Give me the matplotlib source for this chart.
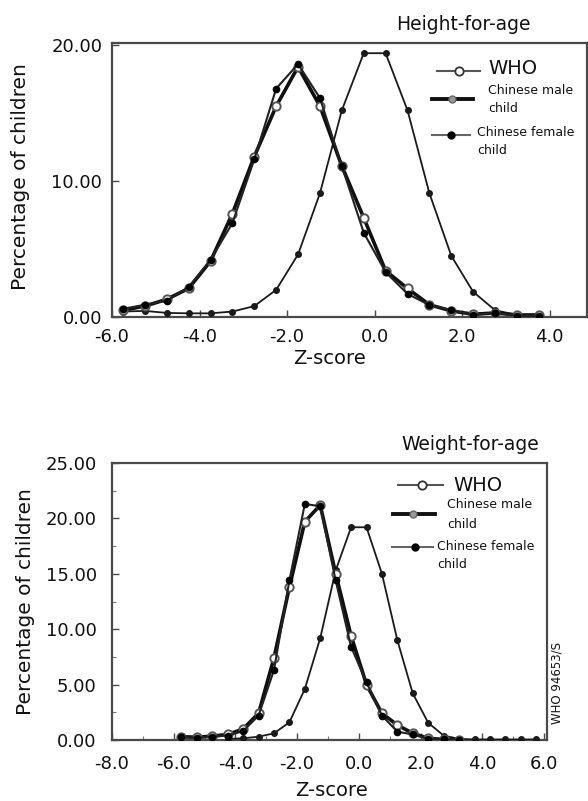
import matplotlib
matplotlib.use("Agg")
import matplotlib.pyplot as plt
from matplotlib.lines import Line2D
import numpy as np

# ---------------- data ----------------
# Height-for-age
z_top = [-5.75, -5.25, -4.75, -4.25, -3.75, -3.25, -2.75, -2.25, -1.75, -1.25,
         -0.75, -0.25, 0.25, 0.75, 1.25, 1.75, 2.25, 2.75, 3.25, 3.75]
who_top = [0.4, 0.45, 0.3, 0.27, 0.27, 0.4, 0.8, 2.0, 4.6, 9.1,
           15.2, 19.4, 19.4, 15.2, 9.1, 4.5, 1.85, 0.5, 0.15, 0.15]
male_top = [0.5, 0.8, 1.3, 2.1, 4.1, 7.6, 11.8, 15.5, 18.4, 15.5,
            11.1, 7.3, 3.4, 2.1, 0.9, 0.45, 0.2, 0.3, 0.15, 0.15]
female_top = [0.6, 0.9, 1.2, 2.2, 4.2, 6.9, 11.6, 16.8, 18.6, 16.1,
              11.1, 6.2, 3.3, 1.7, 0.88, 0.5, 0.15, 0.3, 0.1, 0.1]

# Weight-for-age
z_who_bot = [-4.25, -3.75, -3.25, -2.75, -2.25, -1.75, -1.25, -0.75, -0.25, 0.25,
             0.75, 1.25, 1.75, 2.25, 2.75, 3.25, 3.75, 4.25, 4.75, 5.25, 5.75]
who_bot = [0.1, 0.15, 0.3, 0.6, 1.6, 4.6, 9.2, 15.3, 19.2, 19.2,
           15.0, 9.0, 4.2, 1.55, 0.4, 0.1, 0.05, 0.05, 0.05, 0.05, 0.05]
z_cn_bot = [-5.75, -5.25, -4.75, -4.25, -3.75, -3.25, -2.75, -2.25, -1.75, -1.25,
            -0.75, -0.25, 0.25, 0.75, 1.25, 1.75, 2.25, 2.75, 3.25]
male_bot = [0.3, 0.25, 0.35, 0.5, 1.0, 2.4, 7.4, 13.8, 19.7, 21.2,
            15.0, 9.4, 5.0, 2.4, 1.35, 0.6, 0.15, 0.05, 0.0]
female_bot = [0.25, 0.2, 0.3, 0.4, 0.8, 2.2, 6.3, 14.4, 21.3, 21.1,
              14.4, 8.4, 5.2, 2.2, 0.75, 0.5, 0.1, 0.05, 0.0]

xticks_top = [-6, -4, -2, 0, 2, 4]
yticks_top = [0, 10, 20]
xticks_bot = [-8, -6, -4, -2, 0, 2, 4, 6]
yticks_bot = [0, 5, 10, 15, 20, 25]

legend_labels = ["WHO", "Chinese male\nchild", "Chinese female\nchild"]
titles = ["Height-for-age", "Weight-for-age"]

# ---------------- figure ----------------
W, H = 588, 801
fig = plt.figure(figsize=(W / 100, H / 100), dpi=100)
fig.patch.set_facecolor("white")


def fx(px):
    return px / W


def fy(py):
    return 1 - py / H


def rect(l, t, r, b):
    return [fx(l), fy(b), fx(r) - fx(l), fy(t) - fy(b)]


INK = "#1a1a1a"
SPINE = "#4a4a4a"


def style_axes(ax):
    for s in ax.spines.values():
        s.set_color(SPINE)
        s.set_linewidth(1.6)
    ax.tick_params(direction="in", length=5, width=1.0, color=SPINE,
                   labelsize=13, labelcolor="#111111")
    ax.tick_params(which="minor", direction="in", length=3, width=0.8, color="#777777")


def draw_curves(ax, zw, w, zc, m, f, who_ms):
    ax.plot(zw, w, color=INK, lw=1.3, marker="o", ms=who_ms, mfc=INK, mec=INK,
            zorder=3)
    ax.plot(zc, m, color="#111111", lw=2.6, marker="o", ms=6, mfc="white",
            mec="#555555", mew=1.4, zorder=4)
    ax.plot(zc, f, color="#222222", lw=1.5, marker="o", ms=4.5, mfc="#000000",
            mec="#000000", zorder=5)


def draw_legend(pos):
    # pos: dict of pixel coordinates
    (x0, x1, y, mx) = pos["who_line"]
    fig.add_artist(Line2D([fx(x0), fx(x1)], [fy(y), fy(y)], color="#555555", lw=1.5,
                          transform=fig.transFigure))
    fig.add_artist(Line2D([fx(mx)], [fy(y)], marker="o", ms=6, mfc="white",
                          mec="#333333", mew=1.3, transform=fig.transFigure))
    (x0, x1, y, mx) = pos["male_line"]
    fig.add_artist(Line2D([fx(x0), fx(x1)], [fy(y), fy(y)], color="#111111", lw=2.8,
                          transform=fig.transFigure))
    fig.add_artist(Line2D([fx(mx)], [fy(y)], marker="o", ms=5, mfc="#999999",
                          mec="#666666", mew=1.0, transform=fig.transFigure))
    (x0, x1, y, mx) = pos["female_line"]
    fig.add_artist(Line2D([fx(x0), fx(x1)], [fy(y), fy(y)], color="#666666", lw=1.5,
                          transform=fig.transFigure))
    fig.add_artist(Line2D([fx(mx)], [fy(y)], marker="o", ms=5, mfc="#000000",
                          mec="#000000", transform=fig.transFigure))
    (tx, ty) = pos["who_text"]
    fig.text(fx(tx), fy(ty), legend_labels[0], fontsize=14, ha="left", va="center",
             color="#111111")
    (tx, ty) = pos["male_text"]
    l1, l2 = legend_labels[1].split("\n")
    fig.text(fx(tx), fy(ty), l1, fontsize=9, ha="left", va="center", color="#111111")
    fig.text(fx(tx), fy(ty + pos["gap"]), l2, fontsize=9, ha="left", va="center",
             color="#111111")
    (tx, ty) = pos["female_text"]
    l1, l2 = legend_labels[2].split("\n")
    fig.text(fx(tx), fy(ty), l1, fontsize=9, ha="left", va="center", color="#111111")
    fig.text(fx(tx), fy(ty + pos["gap"]), l2, fontsize=9, ha="left", va="center",
             color="#111111")


# ---------- top panel ----------
ax1 = fig.add_axes(rect(112, 43, 587, 317))
style_axes(ax1)
draw_curves(ax1, z_top, who_top, z_top, male_top, female_top, who_ms=4)
ax1.set_xlim(-6, 4.85)
ax1.set_ylim(0, 20.15)
ax1.set_xticks(xticks_top)
ax1.set_xticklabels([f"{v:.1f}" for v in xticks_top])
ax1.set_yticks(yticks_top)
ax1.set_yticklabels([f"{v:.2f}" for v in yticks_top])
ax1.tick_params(axis="x", pad=8)
ax1.tick_params(axis="y", pad=7)
fig.text(fx(463), fy(25), titles[0], fontsize=13.5, ha="center", va="center",
         color="#111111")
fig.text(fx(330), fy(359), "Z-score", fontsize=14, ha="center", va="center",
         color="#111111")
fig.text(fx(21), fy(177), "Percentage of children", fontsize=14.5, rotation=90,
         ha="center", va="center", color="#111111")
draw_legend({
    "who_line": (437, 480, 71, 459),
    "male_line": (432, 473, 99, 452),
    "female_line": (432, 470, 135, 451),
    "who_text": (488, 68),
    "male_text": (488, 90),
    "female_text": (477, 132),
    "gap": 18,
})

# ---------- bottom panel ----------
ax2 = fig.add_axes(rect(112, 463, 547, 740))
style_axes(ax2)
draw_curves(ax2, z_who_bot, who_bot, z_cn_bot, male_bot, female_bot, who_ms=4)
ax2.set_xlim(-8, 6.1)
ax2.set_ylim(0, 25)
ax2.set_xticks(xticks_bot)
ax2.set_xticklabels([f"{v:.1f}" for v in xticks_bot])
ax2.set_yticks(yticks_bot)
ax2.set_yticklabels([f"{v:.2f}" for v in yticks_bot])
ax2.set_xticks(np.arange(-8, 7, 1), minor=True)
ax2.set_yticks(np.arange(0, 25.1, 2.5), minor=True)
ax2.tick_params(axis="x", pad=11)
ax2.tick_params(axis="y", pad=11)
fig.text(fx(470), fy(445), titles[1], fontsize=13.5, ha="center", va="center",
         color="#111111")
fig.text(fx(331), fy(790), "Z-score", fontsize=14, ha="center", va="center",
         color="#111111")
fig.text(fx(26), fy(602), "Percentage of children", fontsize=14.5, rotation=90,
         ha="center", va="center", color="#111111")
fig.text(fx(557), fy(683), "WHO 94653/S", fontsize=8.5, rotation=90,
         ha="center", va="center", color="#111111")
draw_legend({
    "who_line": (398, 443, 485, 422),
    "male_line": (393, 435, 514, 413),
    "female_line": (392, 433, 547, 415),
    "who_text": (453, 485),
    "male_text": (447, 505),
    "female_text": (437, 546),
    "gap": 19,
})

fig.savefig("out.png", dpi=100, facecolor="white")
